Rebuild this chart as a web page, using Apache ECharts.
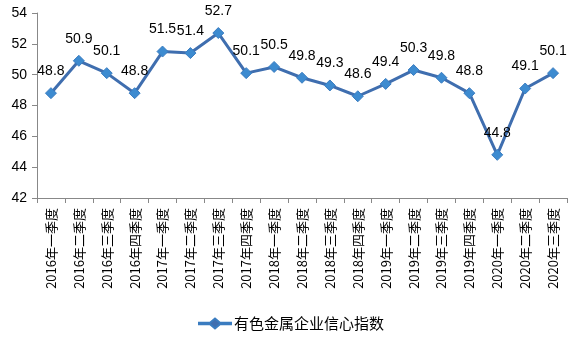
<!DOCTYPE html>
<html>
<head>
<meta charset="utf-8">
<script src="https://cdn.jsdelivr.net/npm/echarts@6/dist/echarts.min.js"></script>
<style>
html,body{margin:0;padding:0;background:#fff;}
#chart{width:582px;height:348px;}
</style>
</head>
<body>
<div id="chart"></div>
<script>
// Quarterly categories (2016 Q1 - 2020 Q3)
const categories = [
  '2016年一季度','2016年二季度','2016年三季度','2016年四季度',
  '2017年一季度','2017年二季度','2017年三季度','2017年四季度',
  '2018年一季度','2018年二季度','2018年三季度','2018年四季度',
  '2019年一季度','2019年二季度','2019年三季度','2019年四季度',
  '2020年一季度','2020年二季度','2020年三季度'
];
// 有色金属企业信心指数
const confidenceIndex = [
  48.8, 50.9, 50.1, 48.8,
  51.5, 51.4, 52.7, 50.1,
  50.5, 49.8, 49.3, 48.6,
  49.4, 50.3, 49.8, 48.8,
  44.8, 49.1, 50.1
];
const seriesName = '有色金属企业信心指数';

// Legend icon: a short line with a diamond in the middle
const legendIcon = 'path://M0,4.2 L11,4.2 L16,0 L21,4.2 L32,4.2 L32,5.8 L21,5.8 L16,10 L11,5.8 L0,5.8 Z';

const chart = echarts.init(document.getElementById('chart'));
chart.setOption({
  animation: false,
  grid: { left: 37, right: 15, top: 13, bottom: 150 },
  legend: {
    bottom: 12,
    left: 'center',
    itemWidth: 32,
    itemHeight: 10,
    itemGap: 4,
    textStyle: { fontFamily: 'Noto Sans CJK SC', fontSize: 15, color: '#000', padding: [0, 0, 0, -2] },
    data: [{ name: seriesName, icon: legendIcon, itemStyle: { color: '#3F6EAF' } }]
  },
  xAxis: {
    type: 'category',
    data: categories,
    boundaryGap: true,
    axisLine: { lineStyle: { color: '#888', width: 1 } },
    axisTick: { show: true, length: 5, lineStyle: { color: '#888' } },
    axisLabel: {
      rotate: 90,
      interval: 0,
      margin: 10,
      fontFamily: 'Noto Sans CJK SC',
      fontSize: 13,
      color: '#000'
    }
  },
  yAxis: {
    type: 'value',
    min: 42,
    max: 54,
    interval: 2,
    splitLine: { show: false },
    axisLine: { show: true, lineStyle: { color: '#888', width: 1 } },
    axisTick: { show: true, length: 5, lineStyle: { color: '#888' } },
    axisLabel: {
      margin: 10,
      fontFamily: 'Liberation Sans',
      fontSize: 14,
      color: '#000'
    }
  },
  series: [{
    name: seriesName,
    type: 'line',
    data: confidenceIndex,
    symbol: 'diamond',
    symbolSize: 11,
    lineStyle: { color: '#3F6EAF', width: 3 },
    itemStyle: { color: '#3D8BD0', borderColor: '#3A7CC0', borderWidth: 1 },
    label: {
      show: true,
      position: 'top',
      distance: 9,
      fontFamily: 'Liberation Sans',
      fontSize: 14,
      color: '#000'
    }
  }]
});
</script>
</body>
</html>
